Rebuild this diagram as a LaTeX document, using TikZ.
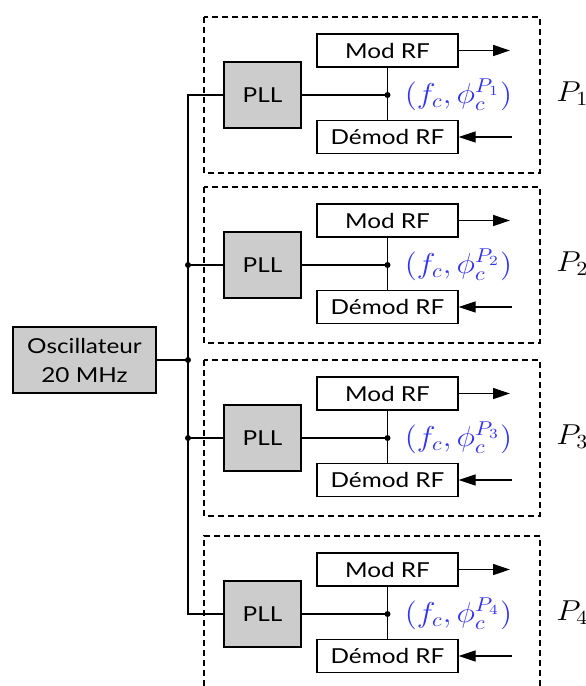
\documentclass[tikz,border=0pt]{standalone}
\usepackage{fontspec}
\usepackage{graphicx}
\newfontfamily\diagsans[FakeStretch=1.18]{Lato}
\usetikzlibrary{arrows.meta}
\definecolor{lblblue}{RGB}{50,50,245}
\definecolor{boxgray}{RGB}{204,204,204}
\newcommand{\wmath}[1]{\scalebox{1.1}[1]{$#1$}}
\begin{document}
\begin{tikzpicture}[x=0.5pt,y=-0.5pt,
  blk/.style={draw, line width=0.65pt, inner sep=0pt, font=\diagsans\fontsize{10.3}{14.5}\selectfont},
  pll/.style={blk, fill=boxgray, minimum width=38.5pt, minimum height=33pt},
  rf/.style={blk, fill=white, minimum width=70.5pt, minimum height=16.5pt},
  osc/.style={blk, fill=boxgray, minimum width=71.5pt, minimum height=33pt, align=center},
  frame/.style={draw, line width=0.65pt, dash pattern=on 3pt off 2pt},
  wire/.style={line width=0.65pt},
  dot/.style={circle, fill, inner sep=0pt, minimum size=3pt},
  lbl/.style={text=lblblue, inner sep=0pt, anchor=base, font=\fontsize{14}{16}\selectfont},
  plab/.style={inner sep=0pt, anchor=base west, font=\fontsize{14}{16}\selectfont},
  arr/.style={wire, -{Triangle[length=8.5pt,width=5.5pt]}}
]
\useasboundingbox (0,0) rectangle (585,686);

% oscillator
\node[osc] (osc) at (84.5,360) {Oscillateur\\20 MHz};

% stages
\foreach \i/\y in {1/95,2/265,3/438,4/614}{
  \node[pll] (pll\i) at (262.5,\y) {PLL};
  \node[rf] (mod\i) at (387.5,\y-44.5) {Mod RF};
  \node[rf] (dem\i) at (387.5,\y+42) {Démod RF};
  \coordinate (j\i) at (387.5,\y);
  \draw[wire] (pll\i.east) -- (j\i);
  \draw[wire] (mod\i.south) -- (dem\i.north);
  \node[dot] (jd\i) at (j\i) {};
  \coordinate (out\i) at (510,\y-44.5);
  \coordinate (in\i) at (512,\y+42);
  \draw[arr] (mod\i.east) -- (out\i);
  \draw[arr] (in\i) -- (dem\i.east);
  \node[lbl] (lab\i) at (458.5,\y+8) {\wmath{(f_c,\phi_c^{P_\i})}};
  \node[plab] (p\i) at (556,\y+6) {\wmath{P_\i}};
}

% dashed frames
\foreach \y in {95,265,438}{
  \draw[frame] (204,\y-78) rectangle (540,\y+78);
}
\draw[frame] (204,686) -- (204,536) -- (540,536) -- (540,686);

% bus
\coordinate (b1) at (188,95);
\coordinate (b2) at (188,265);
\coordinate (bo) at (188,361);
\coordinate (b3) at (188,438);
\coordinate (b4) at (188,614);
\draw[wire] (pll1.west) -- (b1) -- (b4) -- (pll4.west);
\draw[wire] (pll2.west) -- (b2);
\draw[wire] (pll3.west) -- (b3);
\draw[wire] (osc.east) -- (osc.east -| bo);
\node[dot] (d2) at (b2) {};
\node[dot] (d3) at (b3) {};
\node[dot] (do) at (osc.east -| bo) {};
\end{tikzpicture}
\end{document}
